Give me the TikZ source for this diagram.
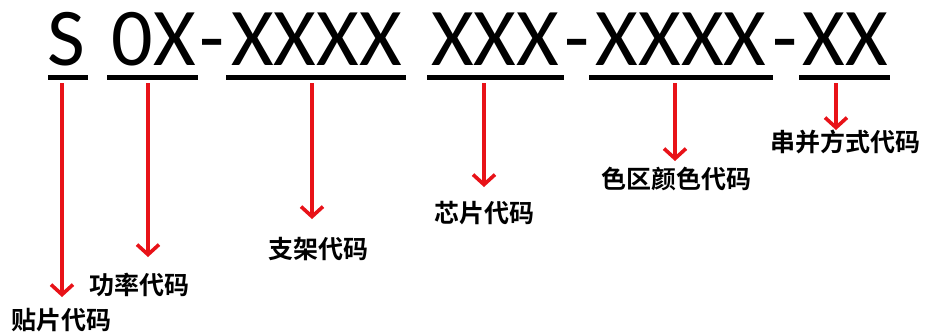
\documentclass[tikz,border=0pt]{standalone}
\usepackage{fontspec}
\usepackage{tikz}
\usetikzlibrary{arrows.meta}
\newfontfamily\codefont{Carlito}
\newfontfamily\cjk{Noto Sans CJK SC}[BoldFont={Noto Sans CJK SC Bold}]
\definecolor{arrowred}{RGB}{232,18,24}

\begin{document}
\begin{tikzpicture}[x=1pt, y=-1pt,
    code/.style={font=\codefont\fontsize{82}{82}\selectfont, inner sep=0pt, anchor=base},
    ul/.style={line width=5pt, black},
    ptr/.style={line width=3.6pt, arrowred, -{Straight Barb[length=10pt,width=22pt]}},
    lbl/.style={font=\cjk\bfseries\fontsize{25}{25}\selectfont, inner sep=0pt}]
    \useasboundingbox (0,0) rectangle (926,333);

    % part number
    \node[code] (cS) at (66.5,65) {S};
    \node[code] (cPower) at (153.5,65) {0X};
    \node[code] (d1) at (212,65) {-};
    \node[code] (cFrame) at (316.5,65) {XXXX};
    \node[code] (cChip) at (495,65) {XXX};
    \node[code] (d2) at (577.5,65) {-};
    \node[code] (cColor) at (681,65) {XXXX};
    \node[code] (d3) at (785,65) {-};
    \node[code] (cWire) at (845,65) {XX};

    % underlines
    \draw[ul] (48,77.5) -- (88,77.5);
    \draw[ul] (107,77.5) -- (198,77.5);
    \draw[ul] (226,77.5) -- (406,77.5);
    \draw[ul] (427,77.5) -- (564,77.5);
    \draw[ul] (589,77.5) -- (773,77.5);
    \draw[ul] (799,77.5) -- (890,77.5);

    % arrows
    \coordinate (aS) at (62,83);      \coordinate (tS) at (62,297);
    \coordinate (aPower) at (148,83); \coordinate (tPower) at (148,257);
    \coordinate (aFrame) at (312,83); \coordinate (tFrame) at (312,219);
    \coordinate (aChip) at (484,83);  \coordinate (tChip) at (484,187);
    \coordinate (aColor) at (675,83); \coordinate (tColor) at (675,161);
    \coordinate (aWire) at (836,83);  \coordinate (tWire) at (836,130);
    \foreach \n in {S,Power,Frame,Chip,Color,Wire} {
      \draw[ptr] (a\n) -- (t\n);
    }

    % labels
    \node[lbl] (lS) at (62,320) {贴片代码};
    \node[lbl] (lPower) at (139,285) {功率代码};
    \node[lbl] (lFrame) at (318,249) {支架代码};
    \node[lbl] (lChip) at (484,213) {芯片代码};
    \node[lbl] (lColor) at (676,179) {色区颜色代码};
    \node[lbl] (lWire) at (845,142) {串并方式代码};
\end{tikzpicture}
\end{document}
